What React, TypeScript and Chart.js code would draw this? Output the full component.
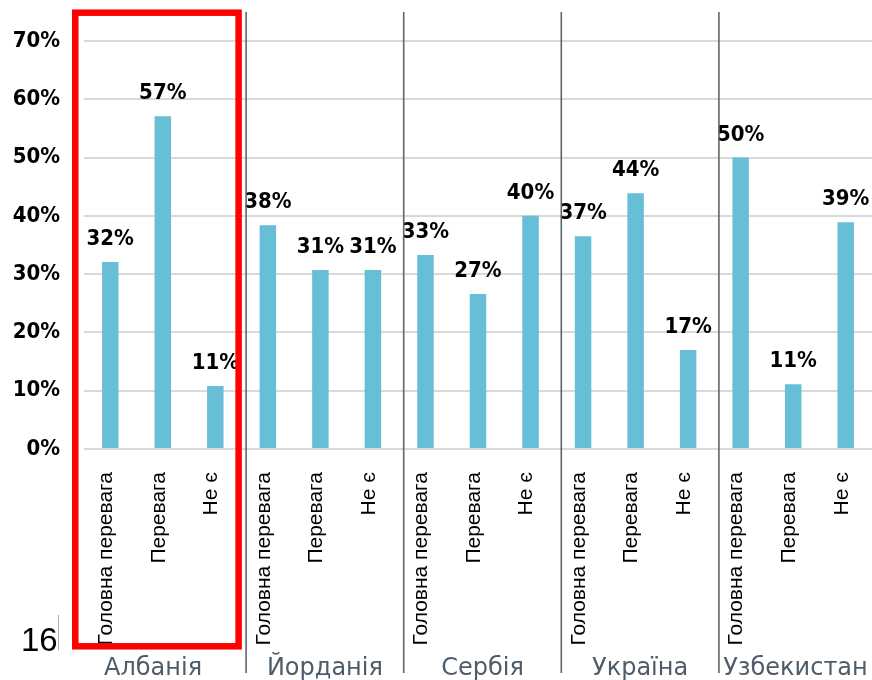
import React, { useEffect, useRef } from "react";
import { Chart, registerables } from "chart.js";

Chart.register(...registerables);

const countries = ["Албанія", "Йорданія", "Сербія", "Україна", "Узбекистан"];
const answerTypes = ["Головна перевага", "Перевага", "Не є"];
const shares = [
  32.1, 57.1, 10.8,
  38.4, 30.7, 30.7,
  33.3, 26.6, 40.0,
  36.5, 43.9, 17.0,
  50.0, 11.1, 38.9,
];
const yTickValues = [0, 10, 20, 30, 40, 50, 60, 70];
const pageNumber = "16";

const labels: string[] = [];
countries.forEach(() => answerTypes.forEach((a) => labels.push(a)));

const BAR = "#67bfd7";
const VALUE_FONT = "bold 22px 'DejaVu Sans Condensed', 'DejaVu Sans', sans-serif";

const overlayPlugin = {
  id: "overlay",
  afterDatasetsDraw(chart: any) {
    const ctx = chart.ctx;
    const meta = chart.getDatasetMeta(0);
    ctx.save();
    ctx.font = VALUE_FONT;
    ctx.fillStyle = "#000";
    ctx.textAlign = "center";
    ctx.textBaseline = "alphabetic";
    meta.data.forEach((el: any, i: number) => {
      ctx.fillText(Math.round(shares[i]) + "%", el.x, el.y - 17);
    });
    ctx.restore();
  },
  afterDraw(chart: any) {
    const ctx = chart.ctx;
    const x = chart.scales.x;
    const area = chart.chartArea;
    const n = answerTypes.length;
    const bounds: number[] = [];
    for (let g = 1; g < countries.length; g++) {
      const b = (x.getPixelForValue(g * n - 1) + x.getPixelForValue(g * n)) / 2 + 4.5;
      bounds.push(b);
    }
    ctx.save();
    // dividers
    ctx.strokeStyle = "#5a6670";
    ctx.lineWidth = 1.6;
    bounds.forEach((b) => {
      ctx.beginPath();
      ctx.moveTo(b, 12);
      ctx.lineTo(b, 673);
      ctx.stroke();
    });
    // group labels
    ctx.font = "24px 'DejaVu Sans', sans-serif";
    ctx.fillStyle = "#4e5c6a";
    ctx.textAlign = "center";
    ctx.textBaseline = "alphabetic";
    const edges = [area.left - 24, ...bounds, chart.width];
    countries.forEach((c, g) => {
      ctx.fillText(c, (edges[g] + edges[g + 1]) / 2, 675);
    });
    // page number
    ctx.font = "33px 'Liberation Sans', Arial, sans-serif";
    ctx.fillStyle = "#000";
    ctx.textAlign = "left";
    ctx.fillText(pageNumber, 21, 651);
    ctx.strokeStyle = "#b0b0b0";
    ctx.lineWidth = 1;
    ctx.beginPath();
    ctx.moveTo(58.5, 615);
    ctx.lineTo(58.5, 650);
    ctx.stroke();
    // red highlight box around first group
    const left = x.getPixelForValue(0) - 35;
    const right = bounds[0] - 7.5;
    ctx.strokeStyle = "#ff0000";
    ctx.lineWidth = 6.5;
    ctx.strokeRect(left, 12.7, right - left, 646.3 - 12.7);
    ctx.restore();
  },
};

export default function App() {
  const ref = useRef<HTMLCanvasElement | null>(null);
  useEffect(() => {
    document.body.style.margin = "0";
    if (!ref.current) return;
    const chart = new Chart(ref.current, {
      type: "bar",
      data: {
        labels,
        datasets: [
          {
            data: shares,
            backgroundColor: BAR,
            barPercentage: 0.314,
            categoryPercentage: 1,
          },
        ],
      },
      options: {
        animation: false,
        responsive: false,
        devicePixelRatio: 1,
        layout: { padding: { top: 41, left: 0, right: 0, bottom: 0 } },
        plugins: { legend: { display: false }, tooltip: { enabled: false } },
        scales: {
          x: {
            grid: { display: false, drawTicks: false },
            border: { display: false },
            ticks: {
              autoSkip: false,
              maxRotation: 90,
              minRotation: 90,
              padding: 23,
              labelOffset: -4,
              color: "#000",
              font: { family: "'Liberation Sans', Arial, sans-serif", size: 21 },
            },
            afterFit: (s: any) => {
              s.height = 231;
              s.paddingLeft = 0;
              s.paddingRight = 0;
            },
          },
          y: {
            min: 0,
            max: 70,
            afterBuildTicks: (s: any) => {
              s.ticks = yTickValues.map((v) => ({ value: v }));
            },
            grid: { color: "#d9d9d9", lineWidth: 2, drawTicks: false },
            border: { display: false },
            ticks: {
              padding: 24,
              color: "#000",
              font: { family: "'DejaVu Sans Condensed', 'DejaVu Sans', sans-serif", size: 22, weight: "bold" },
              callback: (v: any) => v + "%",
            },
            afterFit: (s: any) => {
              s.width = 84;
            },
          },
        },
      },
      plugins: [overlayPlugin],
    });
    return () => chart.destroy();
  }, []);
  return (
    <div style={{ position: "absolute", left: 0, top: 0, width: 872, height: 680, background: "#fff" }}>
      <canvas ref={ref} width={872} height={680} />
    </div>
  );
}
